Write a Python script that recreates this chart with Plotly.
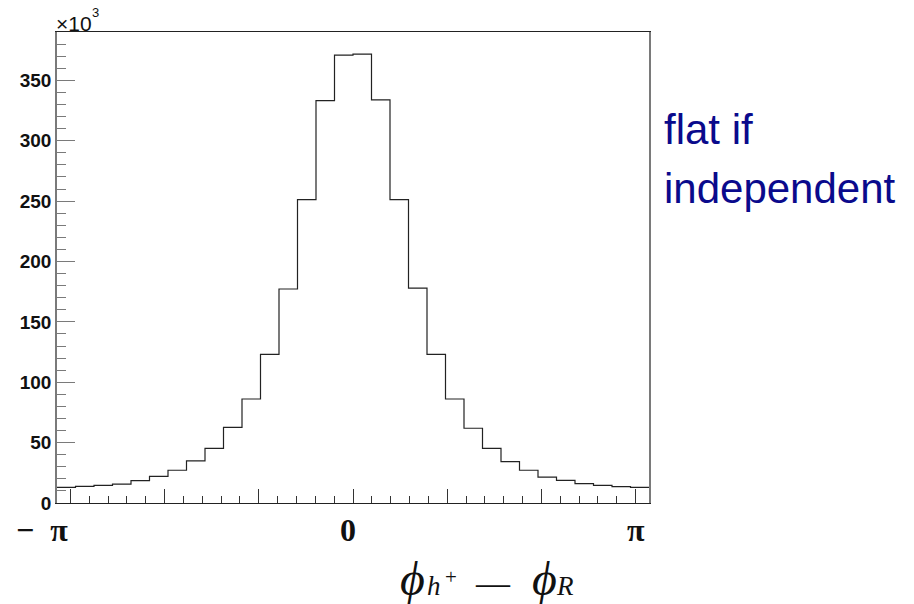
import numpy as np
import plotly.graph_objects as go

# Histogram of the azimuthal difference, 32 bins over [-pi, pi]
N_BINS = 32
X_MIN, X_MAX = -np.pi, np.pi

# Entries per bin, in units of 10^3
counts_k = [13.0, 13.8, 14.6, 15.7, 18.5, 22.1, 27.1, 34.8, 45.3, 62.7,
            86.1, 123.1, 177.2, 251.2, 333.2, 370.8, 371.6, 333.8, 251.2, 178.0,
            123.1, 86.1, 61.9, 45.3, 34.2, 27.1, 21.5, 18.8, 16.0, 14.6,
            13.5, 13.0]

x_major_ticks = [-3, -2, -1, 0, 1, 2, 3]
x_labels = ["\u2212\u00a0\u00a0\u03c0", "0", "\u03c0"]
x_label_pos = [-3.0, -0.05, 3.0]
y_max = 390

edges = np.linspace(X_MIN, X_MAX, N_BINS + 1)
step_x = list(edges)
step_y = list(counts_k) + [counts_k[-1]]

# figure geometry (pixels)
W, H = 914, 604
L, R, T, B = 57, 649, 32, 503


def px(x):
    return (x - L) / (R - L)


def py(y):
    return (B - y) / (B - T)


fig = go.Figure()
fig.add_trace(go.Scatter(
    x=step_x, y=step_y, mode="lines", line=dict(color="#222222", width=1.2, shape="hv"),
    hoverinfo="skip", showlegend=False,
))

# small marks just under the major x ticks
fig.add_trace(go.Scatter(
    x=x_major_ticks, y=[-5] * len(x_major_ticks), mode="markers",
    marker=dict(color="#666666", size=2.5, symbol="square"),
    cliponaxis=False, hoverinfo="skip", showlegend=False,
))

fig.update_layout(
    width=W, height=H,
    margin=dict(l=L, r=W - R, t=T, b=H - B, pad=0),
    paper_bgcolor="white", plot_bgcolor="white",
    showlegend=False,
)

fig.update_xaxes(
    range=[X_MIN, X_MAX],
    showgrid=False, zeroline=False,
    showline=True, linecolor="#222222", linewidth=1.2, mirror=True,
    tickmode="array", tickvals=x_major_ticks, showticklabels=False,
    ticks="inside", ticklen=14, tickcolor="#333333", tickwidth=1,
    minor=dict(tickmode="linear", tick0=0, dtick=0.2, ticks="inside", ticklen=7,
               tickcolor="#333333", tickwidth=1, showgrid=False),
)

fig.update_yaxes(
    range=[0, y_max],
    showgrid=False, zeroline=False,
    showline=True, linecolor="#7a7a7a", linewidth=1.5, mirror=True,
    tickmode="linear", tick0=0, dtick=50,
    ticks="inside", ticklen=18, tickcolor="#7a7a7a", tickwidth=1,
    tickfont=dict(family="Liberation Sans", size=19, color="#111111", weight="bold"),
    minor=dict(tickmode="linear", tick0=0, dtick=10, ticks="inside", ticklen=9,
               tickcolor="#7a7a7a", tickwidth=1, showgrid=False),
)

ann = []
# scale factor above the y axis
ann.append(dict(text="\u00d710", xref="paper", yref="paper",
                x=px(54), y=py(23), xanchor="left", yanchor="middle", showarrow=False,
                font=dict(family="Liberation Sans", size=21, color="#111111")))
ann.append(dict(text="3", xref="paper", yref="paper",
                x=px(90), y=py(12), xanchor="left", yanchor="middle", showarrow=False,
                font=dict(family="Liberation Sans", size=13, color="#111111")))

# x axis labels at -pi, 0, pi
anchors = ["right", "center", "center"]
for lab, xv, anc in zip(x_labels, x_label_pos, anchors):
    ann.append(dict(text=lab, xref="x", yref="paper", x=xv, y=py(530),
                    xanchor=anc, yanchor="middle", showarrow=False,
                    font=dict(family="Liberation Serif", size=32, color="#111111",
                              weight="bold")))

# axis title  phi_{h+} - phi_R
title_font = "Liberation Serif"
title_parts = [
    ("<i>\u03d5</i>", 398, 578, 48),
    ("<i>h</i>", 425, 586, 27),
    ("+", 443, 577, 21),
    ("\u2014", 473, 582, 34),
    ("<i>\u03d5</i>", 530, 578, 48),
    ("<i>R</i>", 554, 586, 27),
]
for txt, x0, y0, sz in title_parts:
    ann.append(dict(text=txt, xref="paper", yref="paper", x=px(x0), y=py(y0),
                    xanchor="left", yanchor="middle", showarrow=False,
                    font=dict(family=title_font, size=sz, color="#111111")))

# side note
for line, top in [("flat if", 104), ("independent", 163)]:
    ann.append(dict(text=line, xref="paper", yref="paper",
                    x=px(662), y=py(top), xanchor="left", yanchor="top", align="left",
                    showarrow=False,
                    font=dict(family="Liberation Sans", size=42, color="#0a0a8c")))

fig.update_layout(annotations=ann)
fig.write_html("out.html")
